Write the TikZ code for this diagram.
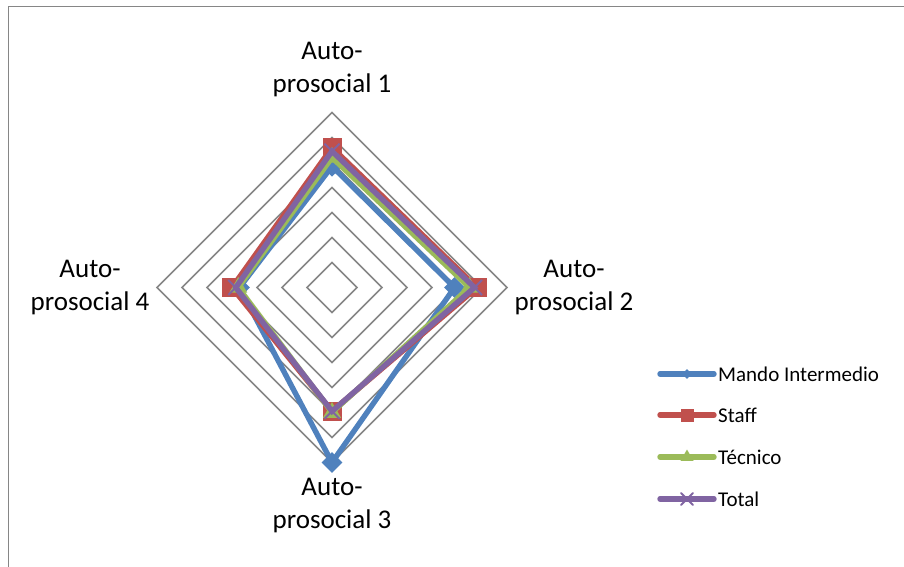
\documentclass[tikz,border=0pt]{standalone}
\usepackage{fontspec}
\setmainfont{Carlito}
\usepackage{xcolor}
\usepackage{tikz}
\usetikzlibrary{shapes,positioning}

\definecolor{gridgray}{HTML}{868686}
\definecolor{mandoblue}{HTML}{4F81BD}
\definecolor{staffred}{HTML}{C0504D}
\definecolor{tecgreen}{HTML}{9BBB59}
\definecolor{totalpurple}{HTML}{8064A2}

\begin{document}
\begin{tikzpicture}[
    x=25pt, y=25pt,
    gridline/.style={draw=gridgray, line width=1.6pt},
    serie/.style={line width=5.4pt, line cap=round},
    axislabel/.style={align=center, font=\fontsize{27}{33}\selectfont},
    legendtext/.style={anchor=west, inner sep=0pt, font=\fontsize{21}{25}\selectfont},
    mkdiamond/.style={diamond, fill=mandoblue, inner sep=0pt, minimum size=21pt},
    mksquare/.style={rectangle, fill=staffred, inner sep=0pt, minimum size=19pt},
    mktriangle/.style={regular polygon, regular polygon sides=3, fill=tecgreen, inner sep=0pt, minimum size=21pt},
    mkcross/.style={cross out, draw=totalpurple, line width=2pt, inner sep=0pt, minimum size=13pt}
]
\useasboundingbox (-13.28,-11.18) rectangle (22.88,11.5);
\clip (-13.28,-11.18) rectangle (22.88,11.5);

% Chart frame
\draw[gridgray, line width=1.5pt] (-12.94,-12) -- (-12.94,11.24) -- (24,11.24);

% Grid
\foreach \r in {1,...,7}
    \draw[gridline] (0,\r) -- (\r,0) -- (0,-\r) -- (-\r,0) -- cycle;

% Axis labels
\node[axislabel] (ax1) at (0,8.7) {Auto-\\prosocial 1};
\node[axislabel] (ax2) at (9.68,0) {Auto-\\prosocial 2};
\node[axislabel] (ax3) at (0,-8.74) {Auto-\\prosocial 3};
\node[axislabel] (ax4) at (-9.68,0) {Auto-\\prosocial 4};

% Mando Intermedio
\coordinate (m1) at (0,4.85);
\coordinate (m2) at (4.9,0);
\coordinate (m3) at (0,-7);
\coordinate (m4) at (-3.7,0);
\draw[serie, mandoblue] (m1) -- (m2) -- (m3) -- (m4) -- cycle;
\foreach \i in {1,...,4} \node[mkdiamond] (m\i mk) at (m\i) {};

% Staff
\coordinate (s1) at (0,5.6);
\coordinate (s2) at (5.8,0);
\coordinate (s3) at (0,-4.95);
\coordinate (s4) at (-4.0,0);
\draw[serie, staffred] (s1) -- (s2) -- (s3) -- (s4) -- cycle;
\foreach \i in {1,...,4} \node[mksquare] (s\i mk) at (s\i) {};

% Tecnico
\coordinate (t1) at (0,5.2);
\coordinate (t2) at (5.5,0);
\coordinate (t3) at (0,-5.0);
\coordinate (t4) at (-3.75,0);
\draw[serie, tecgreen] (t1) -- (t2) -- (t3) -- (t4) -- cycle;
\foreach \i in {1,...,4} \node[mktriangle] (t\i mk) at (t\i) {};

% Total
\coordinate (o1) at (0,5.45);
\coordinate (o2) at (5.7,0);
\coordinate (o3) at (0,-4.95);
\coordinate (o4) at (-3.85,0);
\draw[serie, totalpurple] (o1) -- (o2) -- (o3) -- (o4) -- cycle;
\foreach \i in {1,...,4} \node[mkcross] (o\i mk) at (o\i) {};

% Legend
\coordinate (lg1a) at (13.12,-3.46);  \coordinate (lg1b) at (15.28,-3.46);
\coordinate (lg2a) at (13.12,-5.1);   \coordinate (lg2b) at (15.28,-5.1);
\coordinate (lg3a) at (13.12,-6.78);  \coordinate (lg3b) at (15.28,-6.78);
\coordinate (lg4a) at (13.12,-8.46);  \coordinate (lg4b) at (15.28,-8.46);
\draw[serie, mandoblue] (lg1a) -- node[mkdiamond, minimum size=12pt] (lg1mk) {} (lg1b);
\draw[serie, staffred] (lg2a) -- node[mksquare, minimum size=13pt] (lg2mk) {} (lg2b);
\draw[serie, tecgreen] (lg3a) -- node[mktriangle, minimum size=15pt] (lg3mk) {} (lg3b);
\draw[serie, totalpurple] (lg4a) -- node[mkcross, minimum size=10pt] (lg4mk) {} (lg4b);
\node[legendtext, right=4pt of lg1b] (lg1) {Mando Intermedio};
\node[legendtext, right=4pt of lg2b] (lg2) {Staff};
\node[legendtext, right=4pt of lg3b] (lg3) {Técnico};
\node[legendtext, right=4pt of lg4b] (lg4) {Total};

\end{tikzpicture}
\end{document}
